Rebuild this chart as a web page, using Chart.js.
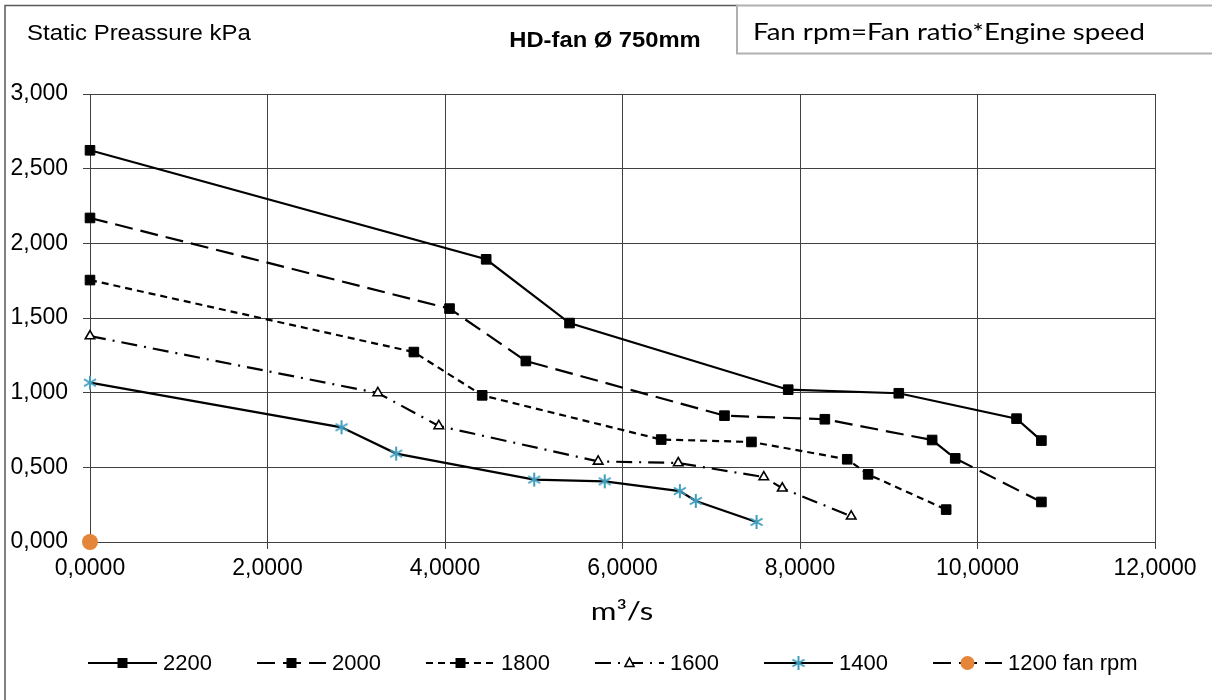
<!DOCTYPE html>
<html>
<head>
<meta charset="utf-8">
<script src="https://cdn.jsdelivr.net/npm/chart.js@4"></script>
<style>
  html, body { margin: 0; padding: 0; background: #fff; }
  #wrap { width: 1212px; height: 700px; }
</style>
</head>
<body>
<div id="wrap"><canvas id="fanChart" width="1212" height="700"></canvas></div>
<script>
// flow m3/s (x) and static pressure kPa (y)
const x2200 = [0, 4.464, 5.403, 7.867, 9.113, 10.44, 10.72];
const y2200 = [2.623, 1.893, 1.466, 1.020, 0.996, 0.826, 0.679];

const x2000 = [0, 4.051, 4.911, 7.149, 8.28, 9.489, 9.749, 10.72];
const y2000 = [2.170, 1.563, 1.212, 0.846, 0.822, 0.683, 0.560, 0.268];

const x1800 = [0, 3.649, 4.419, 6.436, 7.453, 8.532, 8.768, 9.647];
const y1800 = [1.754, 1.272, 0.982, 0.686, 0.670, 0.554, 0.453, 0.217];

const x1600 = [0, 3.243, 3.93, 5.726, 6.628, 7.592, 7.8, 8.577];
const y1600 = [1.379, 0.998, 0.777, 0.540, 0.529, 0.435, 0.360, 0.172];

const x1400 = [0, 2.834, 3.45, 5.005, 5.8, 6.646, 6.826, 7.51];
const y1400 = [1.067, 0.768, 0.592, 0.418, 0.406, 0.341, 0.275, 0.134];

const x1200 = [0];
const y1200 = [0];

const seriesLabels = ["2200", "2000", "1800", "1600", "1400", "1200 fan rpm"];
const xTicks = [0, 2, 4, 6, 8, 10, 12];
const yTicks = [0, 0.5, 1, 1.5, 2, 2.5, 3];

const TEAL = "#3f9dbd";
const ORANGE = "#e4853a";
const ARIAL = "'Liberation Sans', Arial, sans-serif";
const CALIBRI = "Lato, 'Noto Sans', sans-serif";

function pts(xs, ys) {
  return xs.map((x, i) => ({ x: x, y: ys[i] }));
}

// asterisk marker like the excel one
const star = document.createElement("canvas");
star.width = 16; star.height = 16;
(function () {
  const c = star.getContext("2d");
  c.strokeStyle = TEAL;
  c.lineWidth = 2;
  c.beginPath();
  c.moveTo(8, 1); c.lineTo(8, 15);
  c.moveTo(2, 4.5); c.lineTo(14, 11.5);
  c.moveTo(2, 11.5); c.lineTo(14, 4.5);
  c.stroke();
})();

const base = { showLine: true, clip: false, borderColor: "#000", borderWidth: 2.2, pointBorderColor: "#000", pointBorderWidth: 1 };

const datasets = [
  { ...base, label: seriesLabels[0], data: pts(x2200, y2200), pointStyle: "rect", pointRadius: 6.8, pointBackgroundColor: "#000" },
  { ...base, label: seriesLabels[1], data: pts(x2000, y2000), borderDash: [18, 8], pointStyle: "rect", pointRadius: 6.8, pointBackgroundColor: "#000" },
  { ...base, label: seriesLabels[2], data: pts(x1800, y1800), borderDash: [7, 5], pointStyle: "rect", pointRadius: 6.8, pointBackgroundColor: "#000" },
  { ...base, label: seriesLabels[3], data: pts(x1600, y1600), borderDash: [16, 7, 2, 7], pointStyle: "triangle", pointRadius: 5.5, pointBorderWidth: 1.6, pointBackgroundColor: "#fff" },
  { ...base, label: seriesLabels[4], data: pts(x1400, y1400), pointStyle: star, pointRadius: 8 },
  { ...base, label: seriesLabels[5], data: pts(x1200, y1200), borderDash: [18, 8], pointStyle: "circle", pointRadius: 8, pointBorderWidth: 0, pointBackgroundColor: ORANGE, pointBorderColor: ORANGE }
];

function drawMarker(ctx, ds, x, y) {
  ctx.save();
  ctx.setLineDash([]);
  if (ds.pointStyle === star) {
    ctx.drawImage(star, x - 8, y - 8);
  } else if (ds.pointStyle === "rect") {
    ctx.fillStyle = "#000";
    ctx.fillRect(x - 5, y - 5, 10, 10);
  } else if (ds.pointStyle === "triangle") {
    ctx.fillStyle = "#fff";
    ctx.strokeStyle = "#000";
    ctx.lineWidth = 1.6;
    ctx.beginPath();
    ctx.moveTo(x, y - 5); ctx.lineTo(x + 4.5, y + 3.5); ctx.lineTo(x - 4.5, y + 3.5); ctx.closePath();
    ctx.fill(); ctx.stroke();
  } else {
    ctx.fillStyle = ORANGE;
    ctx.beginPath();
    ctx.arc(x, y, 7, 0, Math.PI * 2);
    ctx.fill();
  }
  ctx.restore();
}

// the reference text is a little wider than its height suggests
function wideText(ctx, text, x, y, sx) {
  ctx.save();
  ctx.translate(x, y);
  ctx.scale(sx, 1);
  ctx.fillText(text, 0, 0);
  ctx.restore();
}

const decor = {
  id: "decor",
  beforeDraw(chart) {
    const ctx = chart.ctx;
    ctx.save();
    ctx.fillStyle = "#fff";
    ctx.fillRect(0, 0, chart.width, chart.height);
    ctx.restore();
  },
  afterDraw(chart) {
    const ctx = chart.ctx;
    ctx.save();
    // outer frame
    ctx.strokeStyle = "#595959";
    ctx.lineWidth = 1.5;
    ctx.beginPath();
    ctx.moveTo(5, 710); ctx.lineTo(5, 5.5); ctx.lineTo(737, 5.5);
    ctx.stroke();
    // note box
    ctx.strokeStyle = "#b0b0b0";
    ctx.lineWidth = 2;
    ctx.strokeRect(737, 5.5, 600, 48);

    ctx.fillStyle = "#000";
    ctx.textBaseline = "alphabetic";
    ctx.font = "22px " + ARIAL;
    ctx.textAlign = "left";
    wideText(ctx, "Static Preassure kPa", 27, 40, 1.09);
    ctx.font = "bold 22px " + ARIAL;
    ctx.textAlign = "center";
    wideText(ctx, "HD-fan Ø 750mm", 605, 47, 1.08);
    ctx.font = "24px " + CALIBRI;
    ctx.textAlign = "left";
    wideText(ctx, "Fan rpm=Fan ratio*Engine speed", 753, 40, 1.15);
    ctx.textAlign = "center";
    ctx.font = "25px " + CALIBRI;
    wideText(ctx, "m³/s", 622, 620, 1.25);

    // legend
    ctx.font = "22px " + ARIAL;
    ctx.textAlign = "left";
    ctx.textBaseline = "middle";
    const ly = 663;
    chart.data.datasets.forEach((ds, i) => {
      const lx = 88 + i * 169;
      ctx.strokeStyle = "#000";
      ctx.lineWidth = 2.2;
      ctx.setLineDash(ds.borderDash || []);
      ctx.beginPath();
      ctx.moveTo(lx, ly); ctx.lineTo(lx + 69, ly);
      ctx.stroke();
      ctx.setLineDash([]);
      drawMarker(ctx, ds, lx + 34.5, ly);
      ctx.fillStyle = "#000";
      ctx.fillText(ds.label, lx + 75, ly + 1);
    });
    ctx.restore();
  }
};

new Chart(document.getElementById("fanChart"), {
  type: "scatter",
  data: { datasets: datasets },
  options: {
    responsive: false,
    animation: false,
    layout: { padding: { left: 0, top: 94, right: 57, bottom: 0 } },
    plugins: { legend: { display: false }, tooltip: { enabled: false } },
    scales: {
      x: {
        type: "linear",
        min: 0, max: 12,
        afterBuildTicks: (s) => { s.ticks = xTicks.map(v => ({ value: v })); },
        afterFit: (s) => { s.height = 158; },
        grid: { color: "#404040", lineWidth: 1, tickLength: 7 },
        border: { color: "#404040", width: 1 },
        ticks: {
          color: "#000", padding: 6,
          font: { family: ARIAL, size: 23 },
          callback: (v) => v.toFixed(4).replace(".", ",")
        }
      },
      y: {
        type: "linear",
        min: 0, max: 3,
        afterBuildTicks: (s) => { s.ticks = yTicks.map(v => ({ value: v })); },
        afterFit: (s) => { s.width = 90; },
        grid: { color: "#404040", lineWidth: 1, tickLength: 7 },
        border: { color: "#404040", width: 1 },
        ticks: {
          color: "#000", padding: 15,
          font: { family: ARIAL, size: 23 },
          callback: (v) => v.toFixed(3).replace(".", ",")
        }
      }
    }
  },
  plugins: [decor]
});
</script>
</body>
</html>
